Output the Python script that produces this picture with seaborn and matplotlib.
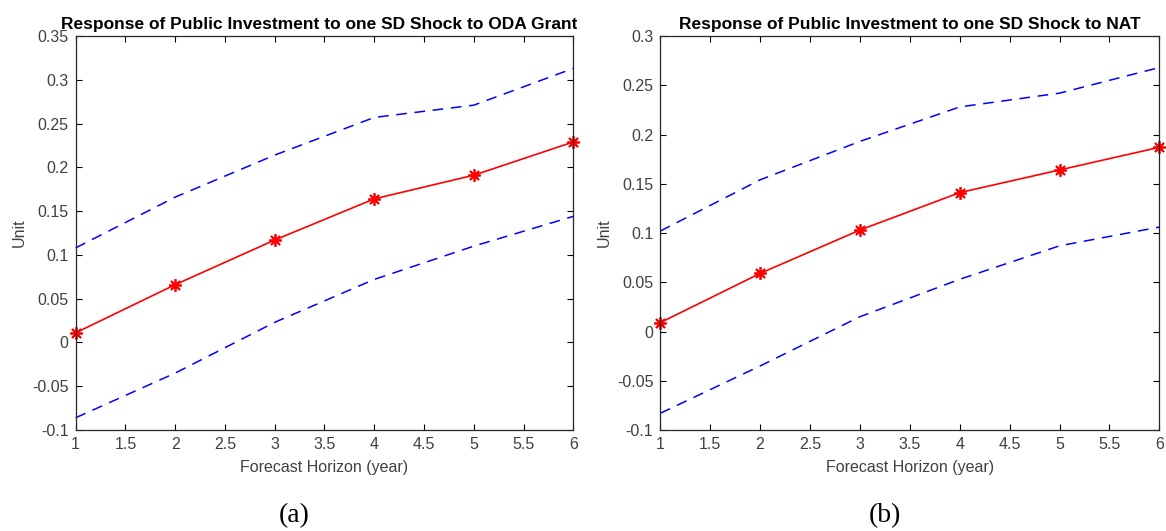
import matplotlib
matplotlib.use("Agg")
import matplotlib.pyplot as plt
from matplotlib.patches import Rectangle
import numpy as np
import pandas as pd
import seaborn as sns

# forecast horizon (years)
horizon = [1, 2, 3, 4, 5, 6]

# (a) shock to ODA grants
oda_resp = [0.011, 0.066, 0.117, 0.164, 0.191, 0.229]
oda_upper = [0.108, 0.166, 0.214, 0.257, 0.271, 0.313]
oda_lower = [-0.086, -0.035, 0.023, 0.072, 0.110, 0.144]

# (b) shock to NAT
nat_resp = [0.009, 0.059, 0.103, 0.141, 0.164, 0.187]
nat_upper = [0.102, 0.154, 0.193, 0.228, 0.242, 0.268]
nat_lower = [-0.083, -0.035, 0.015, 0.053, 0.087, 0.106]

titles = ["Response of Public Investment to one SD Shock to ODA Grants",
          "Response of Public Investment to one SD Shock to NAT"]
captions = ["(a)", "(b)"]
ylims = [(-0.1, 0.35), (-0.1, 0.3)]

sns.set_theme(style="white")
plt.rcParams["font.family"] = ["Liberation Sans", "DejaVu Sans"]

TICK_COLOR = "#404040"
ASTERISK = (8, 2, 0)
W, H = 1166, 531


def irf_panel(ax, resp, upper, lower, title, ylim):
    df = pd.DataFrame({"h": horizon, "resp": resp, "up": upper, "lo": lower})
    for col in ["up", "lo"]:
        sns.lineplot(data=df, x="h", y=col, ax=ax, color="blue", linewidth=1.1,
                     linestyle=(0, (7.0, 5.0)), clip_on=False)
    sns.lineplot(data=df, x="h", y="resp", ax=ax, color="red", linewidth=1.2,
                 marker=ASTERISK, markersize=9, markeredgewidth=1.3,
                 markeredgecolor="red", clip_on=False)
    ax.set_xlim(1, 6)
    ax.set_ylim(*ylim)
    xt = np.arange(1, 6.01, 0.5)
    ax.set_xticks(xt)
    ax.set_xticklabels([f"{v:g}" for v in xt])
    yt = np.round(np.arange(ylim[0], ylim[1] + 1e-9, 0.05), 2)
    ax.set_yticks(yt)
    ax.set_yticklabels([f"{v:g}" for v in yt])
    ax.tick_params(direction="in", length=4, width=0.8, top=True, right=True,
                   bottom=True, left=True, labelsize=11.5, colors="black",
                   labelcolor=TICK_COLOR, pad=5)
    for s in ax.spines.values():
        s.set_color("#262626")
        s.set_linewidth(0.9)
    ax.set_xlabel("Forecast Horizon (year)", fontsize=11.5, color=TICK_COLOR, labelpad=6)
    ax.set_ylabel("Unit", fontsize=11.5, color=TICK_COLOR, labelpad=4)
    ax.set_title(title, fontsize=12.5, fontweight="bold", color="black", pad=5)


fig = plt.figure(figsize=(11.66, 5.31), dpi=100)
ax1 = fig.add_axes([0.0649, 0.1902, 0.4268, 0.742])
ax2 = fig.add_axes([0.5663, 0.1902, 0.428, 0.742])

irf_panel(ax1, oda_resp, oda_upper, oda_lower, titles[0], ylims[0])
irf_panel(ax2, nat_resp, nat_upper, nat_lower, titles[1], ylims[1])

# panel captions below each chart
for cx, cap in zip([294, 885], captions):
    fig.text(cx / W, 1 - 516 / H, cap, ha="center", va="center",
             fontsize=20, family="Liberation Serif", color="black")

# the left title is cut off at the panel edge in the original figure
fig.add_artist(Rectangle((577 / W, 1 - 34 / H), 50 / W, 34 / H, transform=fig.transFigure,
                         facecolor="white", edgecolor="none", zorder=10))

fig.savefig("out.png", dpi=100, facecolor="white")
